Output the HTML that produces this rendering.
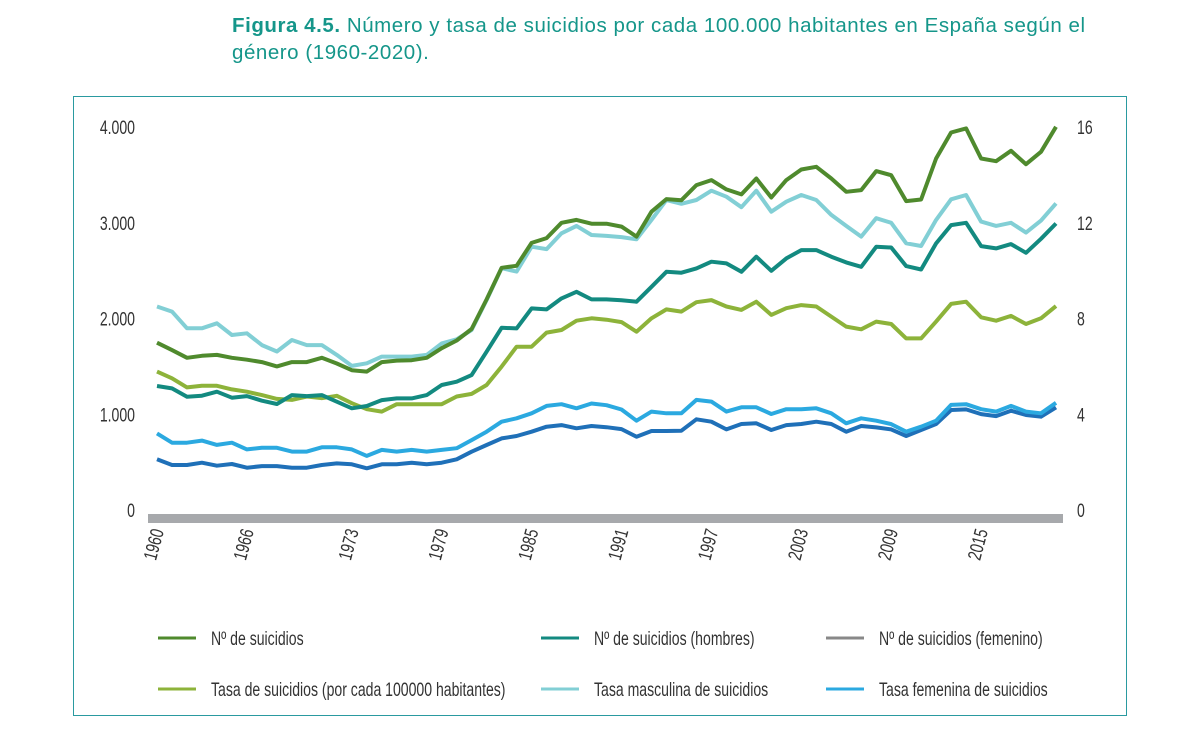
<!DOCTYPE html>
<html><head><meta charset="utf-8">
<style>
body{margin:0;background:#fff;width:1200px;height:731px;overflow:hidden;font-family:"Liberation Sans",sans-serif;}
.title{position:absolute;left:232px;top:12px;font-size:20.5px;line-height:27px;color:#15968a;width:900px;white-space:nowrap;letter-spacing:0.55px;}
.title b{font-weight:bold;}
svg{position:absolute;left:0;top:0;}
.ax{font-family:"Liberation Sans",sans-serif;font-size:19px;fill:#333;}
</style></head><body>
<div class="title"><b>Figura 4.5.</b> Número y tasa de suicidios por cada 100.000 habitantes en España según el<br>género (1960-2020).</div>
<svg width="1200" height="731" id="chart">
<rect x="73.5" y="96.5" width="1053" height="619" fill="none" stroke="#2a9aa0" stroke-width="1"/>
<rect x="148" y="514" width="915" height="9" fill="#a7a9ac"/>
<g id="axes"></g><g id="lines"></g><g id="legend"></g>
</svg>
<script>
const years = [];
for (let y = 1960; y <= 2020; y++) years.push(y);
const xTickYears = [1960,1966,1973,1979,1985,1991,1997,2003,2009,2015];
const leftTicks = [0,1000,2000,3000,4000];
const leftTickLabels = ["0","1.000","2.000","3.000","4.000"];
const rightTicks = [0,4,8,12,16];
const totalCount = [1747,1670,1590,1610,1620,1590,1570,1545,1500,1545,1545,1590,1530,1460,1445,1545,1560,1565,1590,1690,1770,1890,2200,2530,2550,2790,2840,3000,3030,2990,2990,2960,2855,3115,3247,3236,3393,3445,3348,3296,3462,3264,3445,3556,3584,3462,3323,3341,3539,3497,3226,3243,3671,3943,3985,3671,3643,3751,3612,3741,4002];
const menCount = [1295,1270,1183,1194,1235,1173,1190,1141,1107,1200,1190,1200,1131,1062,1086,1148,1166,1166,1200,1305,1340,1409,1653,1903,1897,2105,2095,2210,2279,2199,2199,2190,2175,2331,2488,2478,2523,2593,2575,2488,2645,2498,2628,2714,2714,2645,2586,2540,2749,2742,2547,2512,2784,2975,2999,2756,2732,2777,2686,2832,2992];
const womenCount = [529,470,470,494,463,480,442,459,459,442,442,470,487,477,435,477,477,494,477,494,529,609,679,748,773,818,870,887,853,877,865,845,766,825,825,828,947,922,842,898,905,835,887,898,922,898,818,877,863,842,773,835,898,1044,1051,1002,981,1037,992,974,1072];
const totalRate = [5.78,5.50,5.12,5.19,5.19,5.04,4.94,4.80,4.64,4.60,4.74,4.67,4.77,4.46,4.21,4.11,4.42,4.42,4.42,4.42,4.74,4.85,5.22,5.99,6.82,6.82,7.41,7.52,7.91,8.01,7.95,7.85,7.45,8.01,8.38,8.29,8.68,8.77,8.50,8.36,8.70,8.15,8.43,8.56,8.50,8.08,7.66,7.55,7.87,7.77,7.17,7.17,7.87,8.61,8.70,8.05,7.91,8.11,7.77,8.01,8.52];
const menRate = [8.50,8.29,7.59,7.59,7.80,7.31,7.38,6.89,6.62,7.10,6.89,6.89,6.48,6.02,6.13,6.41,6.41,6.41,6.48,6.96,7.13,7.52,8.77,10.10,9.96,11.0,10.9,11.56,11.87,11.49,11.45,11.40,11.31,12.12,12.95,12.79,12.95,13.34,13.09,12.65,13.34,12.46,12.88,13.16,12.95,12.33,11.87,11.42,12.19,12.0,11.14,11.03,12.12,12.98,13.16,12.05,11.87,12.0,11.59,12.09,12.81];
const womenRate = [3.20,2.81,2.81,2.90,2.72,2.81,2.53,2.60,2.60,2.44,2.44,2.62,2.62,2.53,2.26,2.51,2.44,2.51,2.44,2.51,2.58,2.92,3.27,3.69,3.83,4.04,4.35,4.42,4.25,4.45,4.38,4.20,3.73,4.11,4.04,4.04,4.60,4.53,4.11,4.29,4.29,4.01,4.21,4.21,4.25,4.04,3.62,3.83,3.73,3.59,3.27,3.48,3.73,4.39,4.42,4.21,4.11,4.35,4.11,4.04,4.48];

const NS = "http://www.w3.org/2000/svg";
const X0 = 157, X1 = 1056, Y0 = 510, Y1 = 127;
const SX = 0.74;
function xs(yr){ return X0 + (yr-1960)*(X1-X0)/60; }
function yl(v){ return Y0 - v*(Y0-Y1)/4000; }
function yr(v){ return Y0 - v*(Y0-Y1)/16; }
function mk(tag, attrs, parent){ const e=document.createElementNS(NS,tag); for(const k in attrs) e.setAttribute(k,attrs[k]); parent.appendChild(e); return e; }
function ntext(parent, x, y, str, anchor, rot){
  const tf = `translate(${x} ${y})` + (rot ? ` rotate(${rot})` : '') + ` scale(${SX} 1)`;
  const t = mk('text',{x:0,y:0,'text-anchor':anchor||'start','class':'ax',transform:tf},parent);
  t.textContent = str;
  return t;
}
const axes = document.getElementById('axes');
leftTicks.forEach((v,i)=>{
  const t = ntext(axes, 135, yl(v)+7, leftTickLabels[i], 'end');
  
  
});
rightTicks.forEach(v=>{
  const t = ntext(axes, 1077, yr(v)+7, String(v), 'start');
  
  
});
xTickYears.forEach(y=>{
  const t = ntext(axes, xs(y)+7, 531, String(y), 'end', -75);
  
  
});
const lines = document.getElementById('lines');
function drawLine(vals, scale, color, name){
  const d = vals.map((v,i)=>(i?'L':'M')+xs(years[i]).toFixed(1)+' '+scale(v).toFixed(1)).join(' ');
  const p = mk('path',{d:d,fill:'none',stroke:color,'stroke-width':4,'stroke-linejoin':'round'},lines);
  
  
}
drawLine(womenCount, yl, '#1f70b8', 'line-women-count');
drawLine(womenRate, yr, '#2ba9e0', 'line-women-rate');
drawLine(totalRate, yr, '#8db33a', 'line-total-rate');
drawLine(menCount, yl, '#138a80', 'line-men-count');
drawLine(menRate, yr, '#82cfd5', 'line-men-rate');
drawLine(totalCount, yl, '#4f8a2d', 'line-total-count');

const legend = document.getElementById('legend');
const legendItems = [
 [158,638,'#4f8a2d','Nº de suicidios'],
 [541,638,'#138a80','Nº de suicidios (hombres)'],
 [826,638,'#888888','Nº de suicidios (femenino)'],
 [158,689,'#8db33a','Tasa de suicidios (por cada 100000 habitantes)'],
 [541,689,'#82cfd5','Tasa masculina de suicidios'],
 [826,689,'#2ba9e0','Tasa femenina de suicidios']
];
legendItems.forEach(it=>{
  const g = mk('g',{},legend);
  
  
  mk('line',{x1:it[0],x2:it[0]+38,y1:it[1],y2:it[1],stroke:it[2],'stroke-width':3},g);
  ntext(g, it[0]+53, it[1]+7, it[3], 'start');
});
</script>
</body></html>
